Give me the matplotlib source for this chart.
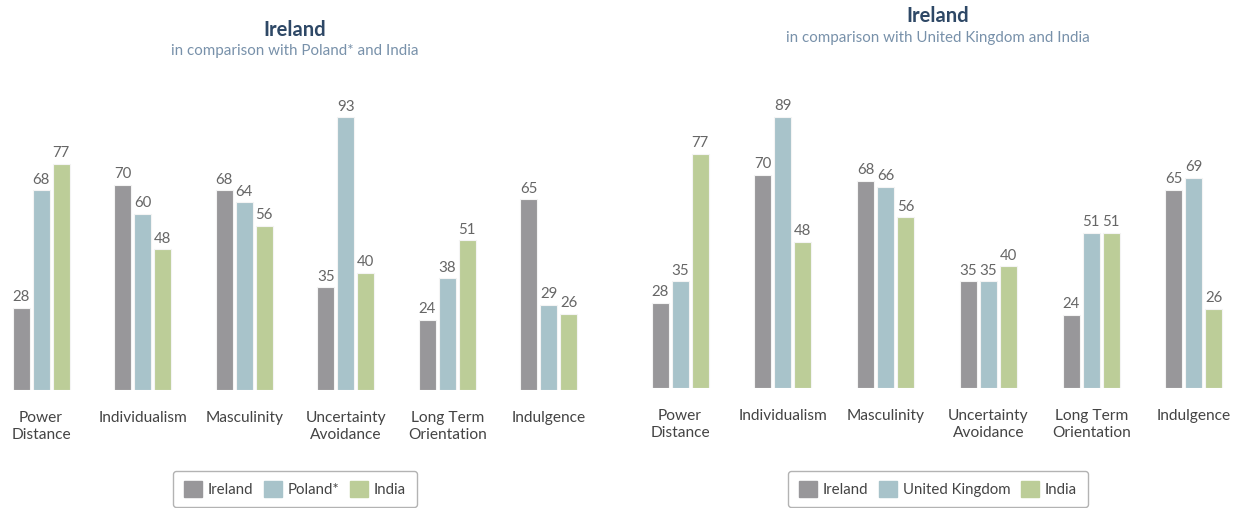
import matplotlib
matplotlib.use("Agg")
import matplotlib.pyplot as plt
from matplotlib.patches import Patch
import numpy as np

plt.rcParams['font.family'] = ['Lato', 'DejaVu Sans']

categories = ["Power\nDistance", "Individualism", "Masculinity", "Uncertainty\nAvoidance",
              "Long Term\nOrientation", "Indulgence"]

left_series = ["Ireland", "Poland*", "India"]
left_ireland = [28, 70, 68, 35, 24, 65]
left_poland = [68, 60, 64, 93, 38, 29]
left_india = [77, 48, 56, 40, 51, 26]

right_series = ["Ireland", "United Kingdom", "India"]
right_ireland = [28, 70, 68, 35, 24, 65]
right_uk = [35, 89, 66, 35, 51, 69]
right_india = [77, 48, 56, 40, 51, 26]

colors = ["#98979a", "#a8c3ca", "#bccd98"]
title_color = "#2e4866"
sub_color = "#7891aa"
label_color = "#666666"

W, H = 1246, 508
fig = plt.figure(figsize=(W / 100, H / 100), dpi=100)


def px_axes(left, right, bottom_px, top_px):
    return fig.add_axes([left / W, (H - bottom_px) / H, (right - left) / W, (bottom_px - top_px) / H])


def draw(ax, series_names, data, width, offset, title_y, sub_y, subtitle, cx, legend_y):
    x = np.arange(len(categories))
    for i, (vals, c, name) in enumerate(zip(data, colors, series_names)):
        bars = ax.bar(x + (i - 1) * offset, vals, width=width, color=c,
                      edgecolor="#f4f4f4", linewidth=0.8, label=name)
        for b, v in zip(bars, vals):
            ax.text(b.get_x() + b.get_width() / 2, v + 1.2, str(v), ha="center", va="bottom",
                    fontsize=10.8, color=label_color)
    ax.set_xlim(-0.4, 5.4)
    ax.set_ylim(0, 100)
    ax.set_xticks(x)
    ax.set_xticklabels(categories, fontsize=11.2, color="#444444", linespacing=1.25)
    ax.tick_params(axis="x", length=0, pad=15)
    ax.set_yticks([])
    for s in ax.spines.values():
        s.set_visible(False)
    fig.text(cx / W, 1 - title_y / H, "Ireland", ha="center", va="center",
             fontsize=14.5, fontweight="bold", color=title_color)
    fig.text(cx / W, 1 - sub_y / H, subtitle, ha="center", va="center",
             fontsize=10.9, color=sub_color)
    handles = [Patch(facecolor=c, edgecolor=c, label=n) for c, n in zip(colors, series_names)]
    leg = fig.legend(handles=handles, loc="center", bbox_to_anchor=(cx / W, 1 - legend_y / H),
                     ncol=3, frameon=True, fancybox=True, fontsize=10.8, handlelength=1.2,
                     handleheight=1.2, handletextpad=0.4, columnspacing=0.7,
                     borderpad=0.7, labelcolor="#444444")
    leg.get_frame().set_edgecolor("#a0a0a0")
    leg.get_frame().set_linewidth(1.0)


axL = px_axes(0.4, 589.6, 390, 96.5)
draw(axL, left_series, [left_ireland, left_poland, left_india], 17 / 101.6, 20 / 101.6,
     30, 51, "in comparison with Poland* and India", 295, 489)

axR = px_axes(638.9, 1235.1, 388, 83.5)
draw(axR, right_series, [right_ireland, right_uk, right_india], 17 / 102.8, 20 / 102.8,
     16, 38, "in comparison with United Kingdom and India", 938, 489)

fig.savefig("out.png", dpi=100, facecolor="white")
